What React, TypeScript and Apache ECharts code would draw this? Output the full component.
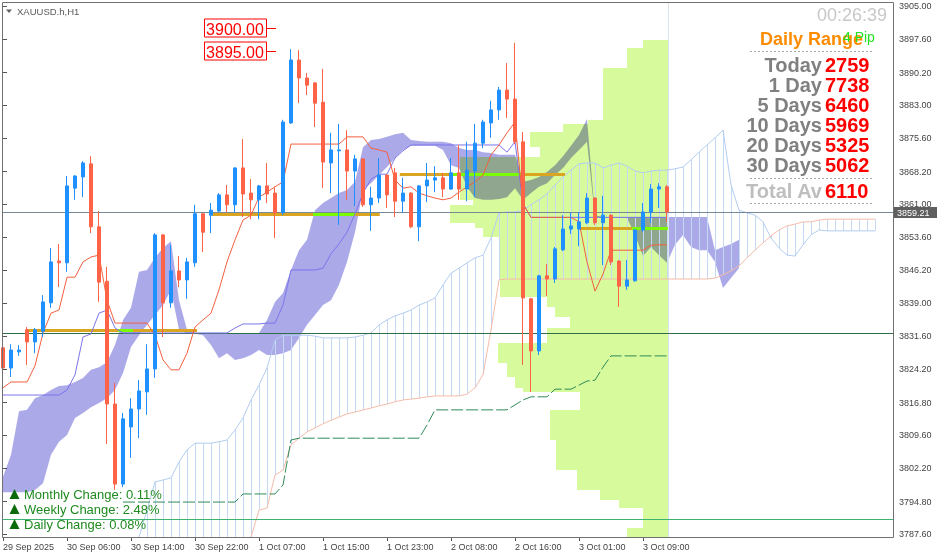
import React, { useEffect, useRef } from 'react';
import * as echarts from 'echarts';

const FONT = '"Liberation Sans", Arial, sans-serif';
const Y_MIN = 3786.93;
const Y_MAX = 3905.89;
const X_MAX = 111;

// ---------- axis texts ----------
const tickLabels = ['29 Sep 2025', '30 Sep 06:00', '30 Sep 14:00', '30 Sep 22:00', '1 Oct 07:00', '1 Oct 15:00', '1 Oct 23:00', '2 Oct 08:00', '2 Oct 16:00', '3 Oct 01:00', '3 Oct 09:00'];
const tickIndex = [0, 8, 16, 24, 32, 40, 48, 56, 64, 72, 80];
const priceTicks = [3905.0, 3897.6, 3890.2, 3883.0, 3875.6, 3868.2, 3861.0, 3853.6, 3846.2, 3839.0, 3831.6, 3824.2, 3816.8, 3809.6, 3802.2, 3794.8, 3787.6];

// ---------- candles [open, close, low, high] ----------
const candles: number[][] = [
  [3829.0, 3824.5, 3823.6, 3830.7], [3824.5, 3828.5, 3822.5, 3829.8], [3828.1, 3828.5, 3827.2, 3829.6], [3833.0, 3830.3, 3825.2, 3833.6],
  [3830.3, 3833.0, 3827.8, 3833.4], [3832.7, 3839.2, 3831.4, 3840.7], [3839.0, 3848.1, 3837.9, 3851.2], [3848.3, 3847.9, 3842.5, 3852.1],
  [3847.9, 3865.0, 3845.9, 3867.2], [3864.5, 3867.2, 3861.9, 3867.4], [3867.0, 3870.1, 3862.5, 3870.5], [3869.9, 3855.9, 3854.5, 3871.6],
  [3855.9, 3843.6, 3839.2, 3859.4], [3843.8, 3816.5, 3807.6, 3847.0], [3816.5, 3798.7, 3797.4, 3821.2], [3798.7, 3813.2, 3798.0, 3814.5],
  [3811.4, 3815.4, 3804.5, 3817.8], [3815.4, 3819.4, 3808.9, 3821.8], [3819.2, 3824.3, 3814.1, 3829.8], [3824.3, 3854.1, 3822.3, 3854.5],
  [3854.1, 3839.0, 3831.4, 3854.3], [3839.0, 3846.1, 3837.9, 3851.9], [3846.1, 3844.1, 3842.5, 3849.4], [3844.1, 3848.1, 3839.9, 3849.0],
  [3847.9, 3858.8, 3847.0, 3860.8], [3858.8, 3854.7, 3850.3, 3858.9], [3858.5, 3859.6, 3854.5, 3861.2], [3859.4, 3863.0, 3859.2, 3863.4],
  [3863.0, 3860.8, 3859.2, 3865.2], [3860.8, 3869.0, 3859.0, 3869.1], [3869.0, 3863.2, 3858.1, 3875.4], [3863.4, 3861.9, 3857.6, 3866.5],
  [3861.9, 3865.0, 3857.6, 3865.2], [3865.0, 3863.2, 3861.2, 3870.1], [3863.4, 3859.0, 3853.4, 3864.8], [3859.0, 3879.2, 3858.5, 3879.7],
  [3879.0, 3893.0, 3878.8, 3895.4], [3893.0, 3889.0, 3883.4, 3895.2], [3889.0, 3887.4, 3885.2, 3890.1], [3887.9, 3883.4, 3878.1, 3888.1],
  [3883.6, 3870.3, 3864.5, 3891.0], [3870.1, 3873.0, 3863.4, 3876.8], [3872.8, 3873.0, 3856.3, 3878.8], [3873.0, 3868.3, 3861.9, 3877.4],
  [3868.3, 3871.0, 3860.5, 3871.9], [3871.0, 3860.8, 3860.3, 3871.1], [3860.8, 3862.3, 3855.0, 3864.8], [3862.3, 3867.4, 3861.2, 3871.2],
  [3867.4, 3863.0, 3860.1, 3867.6], [3867.9, 3861.6, 3858.1, 3869.0], [3861.6, 3863.4, 3859.0, 3866.8], [3863.4, 3855.9, 3855.6, 3863.6],
  [3855.9, 3865.0, 3852.7, 3865.2], [3865.0, 3866.3, 3861.4, 3870.1], [3866.3, 3866.8, 3863.6, 3869.4], [3866.8, 3864.3, 3862.5, 3867.9],
  [3864.3, 3867.9, 3864.1, 3871.2], [3867.9, 3864.3, 3861.9, 3874.1], [3864.3, 3868.5, 3861.6, 3874.8], [3868.3, 3874.5, 3862.5, 3878.8],
  [3874.5, 3879.2, 3873.4, 3879.7], [3879.0, 3881.9, 3875.7, 3883.9], [3881.9, 3886.3, 3879.7, 3887.0], [3886.3, 3884.3, 3880.1, 3892.3],
  [3884.3, 3874.8, 3874.3, 3896.8], [3874.8, 3840.1, 3825.2, 3877.0], [3839.9, 3828.3, 3819.2, 3840.1], [3828.3, 3845.0, 3827.4, 3845.2],
  [3845.0, 3844.3, 3840.5, 3847.6], [3844.3, 3851.0, 3843.4, 3851.4], [3850.8, 3855.4, 3850.5, 3858.5], [3855.4, 3856.1, 3854.3, 3859.0],
  [3855.4, 3857.0, 3851.6, 3859.2], [3856.8, 3862.3, 3856.5, 3863.4], [3862.3, 3856.8, 3856.3, 3862.5], [3856.8, 3858.5, 3847.4, 3862.8],
  [3858.5, 3848.1, 3847.4, 3858.7], [3848.3, 3842.7, 3838.1, 3848.5], [3842.7, 3844.1, 3841.9, 3848.5], [3843.9, 3855.2, 3843.7, 3855.4],
  [3855.2, 3859.2, 3854.7, 3861.2], [3859.2, 3864.3, 3856.8, 3865.4], [3864.3, 3864.8, 3860.1, 3865.6], [3864.8, 3859.21, 3857.0, 3865.2],
];

// ---------- Ichimoku lines ----------
const tenkan = [
  3820.1, 3821.4, 3821.4, 3821.4, 3825.0, 3832.3, 3836.7, 3837.4, 3844.7, 3844.7, 3848.1, 3849.2, 3849.6, 3839.6, 3834.5, 3834.5,
  3834.5, 3834.5, 3834.5, 3831.8, 3826.3, 3824.1, 3824.1, 3827.8, 3833.6, 3835.2, 3836.7, 3841.9, 3848.1, 3853.0, 3857.4, 3858.5,
  3862.5, 3863.6, 3864.8, 3865.9, 3874.3, 3874.3, 3874.3, 3874.3, 3874.3, 3874.3, 3874.3, 3875.9, 3875.9, 3875.9, 3873.4, 3873.0,
  3872.5, 3866.3, 3864.5, 3864.8, 3863.4, 3862.8, 3862.3, 3861.9, 3862.3, 3863.6, 3864.8, 3865.9, 3867.4, 3871.9, 3874.1, 3876.8,
  3879.2, 3861.0, 3858.0, 3858.0, 3858.0, 3858.0, 3858.0, 3858.0, 3857.0, 3848.1, 3841.6, 3845.4, 3850.7, 3850.7, 3850.7, 3850.7,
  3850.7, 3851.8, 3851.9, 3851.9,
];
const kijun = [
  3818.5, 3818.5, 3818.5, 3818.5, 3818.5, 3818.5, 3818.5, 3818.5, 3819.6, 3823.0, 3831.4, 3832.1, 3836.7, 3837.4, 3833.4, 3832.3,
  3832.3, 3832.3, 3832.3, 3832.3, 3832.3, 3832.3, 3832.3, 3832.3, 3832.3, 3832.3, 3832.3, 3832.3, 3832.3, 3833.4, 3834.3, 3834.3,
  3834.3, 3834.5, 3834.5, 3838.5, 3846.3, 3846.3, 3846.3, 3846.3, 3846.7, 3849.9, 3852.1, 3854.7, 3858.8, 3863.4, 3866.5, 3867.6,
  3867.6, 3871.2, 3872.8, 3874.1, 3874.1, 3874.1, 3874.1, 3874.1, 3874.1, 3874.1, 3874.1, 3874.1, 3874.1, 3874.1, 3874.1, 3872.5,
  3874.8, 3861.0, 3858.0, 3858.0, 3858.0, 3858.0, 3858.0, 3858.0, 3858.0, 3858.0, 3858.0, 3858.0, 3858.0, 3858.0, 3858.0, 3858.0,
  3858.0, 3858.0, 3858.0, 3858.0,
];

// ---------- cloud (upper / lower edge, from bar 0) ----------
const cloudTop = [
  3800.3, 3805.2, 3814.9, 3815.2, 3817.8, 3818.5, 3819.6, 3820.5, 3820.7, 3821.4, 3822.3, 3824.1, 3824.7, 3825.8, 3829.6, 3835.2,
  3837.9, 3845.9, 3846.3, 3849.0, 3851.2, 3852.7, 3839.6, 3833.0, 3832.3, 3832.3, 3832.3, 3832.3, 3832.3, 3832.3, 3832.3, 3832.3,
  3832.3, 3835.2, 3839.2, 3841.2, 3846.3, 3850.7, 3853.0, 3859.6, 3861.2, 3862.3, 3863.4, 3864.1, 3865.9, 3873.6, 3875.2, 3875.4,
  3875.9, 3876.5, 3876.8, 3875.2, 3875.0, 3874.8, 3874.8, 3874.8, 3874.5, 3873.4, 3873.0, 3873.0, 3872.5, 3872.3, 3871.9, 3871.9,
  3871.9, 3865.9, 3866.3, 3867.0, 3868.1, 3869.6, 3871.6, 3873.9, 3876.3, 3879.9, 3858.5, 3858.1, 3858.1, 3858.1, 3858.1, 3858.1,
  3858.1, 3858.1, 3858.1, 3858.1, 3858.1, 3858.1, 3858.1, 3858.1, 3858.1, 3850.7, 3851.4, 3852.1, 3853.0,
];
const cloudBot = [
  3796.9, 3796.9, 3796.9, 3796.9, 3797.4, 3798.9, 3805.2, 3808.1, 3809.6, 3813.4, 3814.5, 3815.8, 3816.7, 3817.8, 3819.6, 3823.4,
  3829.2, 3831.8, 3834.1, 3836.3, 3838.5, 3841.9, 3833.0, 3832.1, 3832.1, 3831.8, 3829.6, 3826.7, 3827.8, 3826.3, 3826.7, 3827.4,
  3828.5, 3827.4, 3827.4, 3827.8, 3828.5, 3831.2, 3834.1, 3836.3, 3838.5, 3839.6, 3843.0, 3848.1, 3854.7, 3864.1, 3865.6, 3867.4,
  3869.2, 3871.2, 3873.0, 3873.9, 3873.9, 3873.9, 3873.9, 3873.0, 3869.6, 3869.0, 3864.8, 3862.3, 3861.9, 3861.9, 3862.1, 3862.5,
  3864.5, 3861.9, 3863.4, 3864.8, 3865.6, 3867.4, 3869.0, 3871.2, 3873.0, 3874.8, 3858.1, 3858.1, 3858.1, 3858.1, 3857.9, 3854.1,
  3849.4, 3851.4, 3849.6, 3847.9, 3851.9, 3854.1, 3851.4, 3850.7, 3850.7, 3848.1, 3842.3, 3844.5, 3846.7,
];

// ---------- hatched band (bars 17..109) ----------
const HATCH_START = 17;
const hatchUpper = [
  3786.9, 3792.9, 3799.2, 3799.6, 3800.1, 3803.6, 3806.3, 3807.8, 3807.8, 3807.8, 3808.1, 3808.5, 3810.7, 3813.4, 3817.4, 3820.7,
  3824.5, 3830.7, 3831.8, 3831.8, 3831.8, 3831.8, 3831.6, 3831.2, 3831.2, 3831.2, 3831.2, 3831.4, 3831.8, 3832.3, 3834.1, 3835.2,
  3836.1, 3836.7, 3837.4, 3838.5, 3839.2, 3840.1, 3843.0, 3845.6, 3846.7, 3847.9, 3849.0, 3849.6, 3853.4, 3859.0, 3859.2, 3859.2,
  3859.6, 3860.8, 3861.9, 3863.2, 3865.2, 3867.0, 3868.5, 3869.9, 3870.1, 3870.1, 3869.0, 3869.6, 3870.1, 3869.4, 3868.3, 3867.9,
  3868.3, 3868.5, 3868.5, 3868.8, 3869.2, 3870.8, 3872.5, 3874.1, 3875.7, 3877.4, 3865.2, 3859.6, 3859.0, 3858.5, 3857.0, 3853.4,
  3851.2, 3849.6, 3849.4, 3851.9, 3854.1, 3855.2, 3855.0, 3855.0, 3855.0, 3855.0, 3855.0, 3855.0, 3855.0,
];
const hatchLower: (number | null)[] = [
  null, null, null, null, null, null, null, null, null, null, null, null, null, null, 3786.9, 3792.9,
  3793.4, 3800.7, 3801.8, 3807.4, 3808.9, 3810.3, 3811.2, 3812.1, 3812.9, 3813.6, 3814.3, 3814.7, 3815.2, 3815.6, 3816.1, 3816.5,
  3817.0, 3817.4, 3817.6, 3817.8, 3818.1, 3818.3, 3818.3, 3818.3, 3818.3, 3818.7, 3820.1, 3823.0, 3833.0, 3844.1, 3844.3, 3844.3,
  3844.3, 3844.3, 3844.3, 3844.3, 3844.3, 3844.3, 3844.3, 3844.3, 3844.3, 3844.3, 3844.3, 3844.3, 3844.3, 3844.3, 3844.3, 3844.3,
  3844.3, 3844.3, 3844.3, 3844.3, 3844.3, 3844.3, 3844.3, 3844.3, 3844.5, 3845.2, 3846.1, 3847.2, 3849.0, 3850.7, 3852.3, 3853.9,
  3855.2, 3856.1, 3856.5, 3857.0, 3857.0, 3857.4, 3857.6, 3857.6, 3857.6, 3857.6, 3857.6, 3857.6, 3857.6,
];

// ---------- dashed green line (bars 15..83) ----------
const DASH_START = 15;
const greenDash = [
  3794.7, 3794.7, 3794.7, 3794.7, 3794.7, 3794.7, 3794.7, 3794.7, 3794.7, 3794.7, 3794.7, 3794.7, 3794.7, 3794.7, 3794.7,
  3796.5, 3796.5, 3796.5, 3796.5, 3796.5, 3798.5, 3808.5,
  3808.9, 3808.9, 3808.9, 3808.9, 3808.9, 3808.9, 3808.9, 3808.9, 3808.9, 3808.9, 3808.9, 3808.9, 3808.9, 3808.9, 3808.9, 3808.9,
  3811.8, 3815.2, 3815.2, 3815.2, 3815.2, 3815.2, 3815.2, 3815.2, 3815.2, 3815.2, 3815.2, 3816.3, 3817.4,
  3818.1, 3818.1, 3818.1, 3819.8, 3819.8, 3819.8, 3820.7, 3821.6, 3821.8, 3824.7,
  3827.2, 3827.2, 3827.2, 3827.2, 3827.2, 3827.2, 3827.2, 3827.2,
];

// ---------- volume profile ----------
const PROFILE_RIGHT = 83.125;
const profileEdges = [3897.4, 3895.7, 3891.2, 3879.7, 3878.8, 3877.0, 3873.7, 3871.4, 3861.9, 3860.8, 3856.8, 3855.6, 3853.6, 3840.3, 3838.1, 3835.9, 3833.4, 3830.1, 3825.6, 3822.5, 3820.1, 3819.2, 3815.2, 3808.5, 3801.8, 3797.4, 3795.2, 3793.4, 3788.9, 3786.9];
const profileVol = [3.1, 5.1, 8.1, 10.0, 13.1, 17.3, 16.0, 26.0, 24.4, 27.3, 24.1, 23.1, 21.0, 15.1, 14.1, 12.3, 15.1, 21.3, 20.1, 19.1, 18.1, 11.0, 14.8, 14.0, 11.4, 8.5, 6.1, 3.1, 5.1];

// ---------- levels ----------
const goldPrice = [3833.0, 3858.8, 3867.6, 3855.6];
const goldFrom = [3.0, 26.1, 49.6, 72.1];
const goldTo = [24.25, 47.1, 70.25, 83.1];
const limeFrom = [14.4, 38.75, 55.9, 78.6];
const limeTo = [16.25, 44.0, 64.9, 83.1];
const hLevels = [3859.21, 3832.3, 3790.9];
const hColors = ['#778899', '#2F6E46', '#3CB371'];
const lastPrice = 3859.21;
const alertPrices = [3900.0, 3895.0];
const ALERT_IDX = 34.125;

// ---------- panel texts ----------
const rangeLabels = ['Today', '1 Day', '5 Days', '10 Days', '20 Days', '30 Days'];
const rangeValues = ['2759', '7738', '6460', '5969', '5325', '5062'];
const rangeTotal = '6110';
const changeTexts = ['Monthly Change: 0.11%', 'Weekly Change: 2.48%', 'Daily Change: 0.08%'];

const CLOUD = '#aca9e9';

function buildOption(): any {
  const graphic: any[] = [];
  graphic.push({ type: 'rect', silent: true, z: 100, shape: { x: 2.5, y: 2.5, width: 891, height: 535 }, style: { fill: 'transparent', stroke: '#707070', lineWidth: 1 } });
  graphic.push({ type: 'polygon', silent: true, z: 100, shape: { points: [[6, 9.5], [12, 9.5], [9, 13]] }, style: { fill: '#606060' } });
  graphic.push({ type: 'text', silent: true, z: 100, x: 17, y: 11, style: { text: 'XAUUSD.h,H1', fill: '#5a5a5a', font: `9.5px ${FONT}`, align: 'left', verticalAlign: 'middle' } });

  // daily range panel
  graphic.push({ type: 'text', silent: true, z: 100, x: 887, y: 15, style: { text: '00:26:39', fill: '#C8C8C8', font: `18px ${FONT}`, align: 'right', verticalAlign: 'middle' } });
  graphic.push({ type: 'text', silent: true, z: 100, x: 863, y: 39, style: { text: 'Daily Range', fill: '#FF8C00', font: `bold 18px ${FONT}`, align: 'right', verticalAlign: 'middle' } });
  graphic.push({ type: 'text', silent: true, z: 101, x: 843, y: 37, style: { text: '4 Pip', fill: '#22E022', font: `14px ${FONT}`, align: 'left', verticalAlign: 'middle' } });
  [51, 178, 203].forEach((y) => {
    graphic.push({ type: 'line', silent: true, z: 100, shape: { x1: 750, y1: y + 0.5, x2: 873, y2: y + 0.5 }, style: { stroke: '#A8A8A8', lineWidth: 1, lineDash: [2, 2] } });
  });
  rangeLabels.forEach((lab, k) => {
    const y = 65 + k * 20;
    graphic.push({ type: 'text', silent: true, z: 100, x: 822, y, style: { text: lab, fill: '#808080', font: `bold 20px ${FONT}`, align: 'right', verticalAlign: 'middle' } });
    graphic.push({ type: 'text', silent: true, z: 100, x: 825, y, style: { text: rangeValues[k], fill: '#FF0000', font: `bold 20px ${FONT}`, align: 'left', verticalAlign: 'middle' } });
  });
  graphic.push({ type: 'text', silent: true, z: 100, x: 822, y: 191, style: { text: 'Total Av', fill: '#BEBEBE', font: `bold 20px ${FONT}`, align: 'right', verticalAlign: 'middle' } });
  graphic.push({ type: 'text', silent: true, z: 100, x: 825, y: 191, style: { text: rangeTotal, fill: '#FF0000', font: `bold 20px ${FONT}`, align: 'left', verticalAlign: 'middle' } });

  // change texts
  changeTexts.forEach((t, k) => {
    const y = 494 + k * 15;
    graphic.push({ type: 'polygon', silent: true, z: 100, shape: { points: [[9.5, y + 5], [19.5, y + 5], [14.5, y - 5]] }, style: { fill: '#0B6B0B' } });
    graphic.push({ type: 'text', silent: true, z: 100, x: 24, y, style: { text: t, fill: '#1F8A1F', font: `13px ${FONT}`, align: 'left', verticalAlign: 'middle' } });
  });

  const series: any[] = [];

  // volume profile
  series.push({
    type: 'custom', z: 1, silent: true,
    data: profileVol.map((v, k) => [k, profileEdges[k], profileEdges[k + 1], v]),
    renderItem: (params: any, api: any) => {
      const hi = api.value(1), lo = api.value(2), vol = api.value(3);
      const a = api.coord([PROFILE_RIGHT - vol, hi]);
      const b = api.coord([PROFILE_RIGHT, lo]);
      const x = Math.round(a[0]), y = Math.round(a[1]);
      return { type: 'rect', shape: { x, y, width: Math.round(b[0]) - x, height: Math.round(b[1]) - y }, style: { fill: '#D7FA9C' } };
    },
  });

  // cloud
  series.push({
    type: 'custom', z: 2, silent: true,
    data: [[0, cloudTop[0]]],
    renderItem: (params: any, api: any) => {
      const pts: number[][] = [];
      for (let i = 0; i < cloudTop.length; i++) pts.push(api.coord([i, cloudTop[i]]));
      for (let i = cloudBot.length - 1; i >= 0; i--) pts.push(api.coord([i, cloudBot[i]]));
      return { type: 'polygon', shape: { points: pts }, style: { fill: CLOUD } };
    },
  });

  // hatch verticals
  series.push({
    type: 'custom', z: 3, silent: true,
    data: hatchUpper.map((v, k) => [HATCH_START + k, v]),
    renderItem: (params: any, api: any) => {
      const idx = api.value(0);
      const k = idx - HATCH_START;
      const up = hatchUpper[k];
      const lo = hatchLower[k] == null ? Y_MIN : (hatchLower[k] as number);
      const p1 = api.coord([idx, up]);
      const p2 = api.coord([idx, lo]);
      const x = Math.round(p1[0]) + 0.5;
      return { type: 'line', shape: { x1: x, y1: p1[1], x2: x, y2: p2[1] }, style: { stroke: '#C4DAF4', lineWidth: 1 } };
    },
  });

  // current bar separator
  series.push({
    type: 'custom', z: 3, silent: true,
    data: [[PROFILE_RIGHT, Y_MAX]],
    renderItem: (params: any, api: any) => {
      const a = api.coord([PROFILE_RIGHT, Y_MAX]);
      const b = api.coord([PROFILE_RIGHT, Y_MIN]);
      const x = Math.round(a[0]) + 0.5;
      return { type: 'line', shape: { x1: x, y1: a[1], x2: x, y2: b[1] }, style: { stroke: '#DCE5EE', lineWidth: 1 } };
    },
  });

  // hatch border lines
  series.push({ type: 'line', z: 4, silent: true, showSymbol: false, data: hatchUpper.map((v, k) => [HATCH_START + k, v]), lineStyle: { color: '#B2CDF0', width: 1 } });
  series.push({ type: 'line', z: 4, silent: true, showSymbol: false, data: hatchLower.map((v, k) => [HATCH_START + k, v]), lineStyle: { color: '#F5BCA8', width: 1 } });

  // horizontal levels
  series.push({
    type: 'custom', z: 5, silent: true,
    data: hLevels.map((v) => [0, v]),
    renderItem: (params: any, api: any) => {
      const v = api.value(1);
      const a = api.coord([0, v]);
      const b = api.coord([X_MAX, v]);
      const y = Math.round(a[1]) + 0.5;
      return { type: 'line', shape: { x1: a[0] - 1, y1: y, x2: b[0] + 2, y2: y }, style: { stroke: hColors[params.dataIndex], lineWidth: 1 } };
    },
  });

  // gold/lime segments
  series.push({
    type: 'custom', z: 6, silent: true,
    data: goldPrice.map((p, k) => [goldFrom[k], p]),
    renderItem: (params: any, api: any) => {
      const k = params.dataIndex;
      const p = goldPrice[k];
      const a = api.coord([goldFrom[k], p]);
      const b = api.coord([goldTo[k], p]);
      const c = api.coord([limeFrom[k], p]);
      const d = api.coord([limeTo[k], p]);
      const y = Math.round(a[1]) + 0.5;
      return {
        type: 'group', children: [
          { type: 'line', shape: { x1: a[0], y1: y, x2: b[0], y2: y }, style: { stroke: '#DAA520', lineWidth: 3 } },
          { type: 'line', shape: { x1: c[0], y1: y, x2: d[0], y2: y }, style: { stroke: '#7CFC00', lineWidth: 3 } },
        ],
      };
    },
  });

  // indicator lines
  series.push({ type: 'line', z: 7, silent: true, showSymbol: false, data: kijun.map((v, i) => [i, v]), lineStyle: { color: '#7C74EC', width: 1 } });
  series.push({ type: 'line', z: 7, silent: true, showSymbol: false, data: tenkan.map((v, i) => [i, v]), lineStyle: { color: '#F4603F', width: 1 } });
  series.push({ type: 'line', z: 7, silent: true, showSymbol: false, data: greenDash.map((v, k) => [DASH_START + k, v]), lineStyle: { color: '#2E8B57', width: 1, type: [12, 3] } });

  // candles
  series.push({
    type: 'candlestick', z: 8, silent: true,
    dimensions: ['x', 'open', 'close', 'lowest', 'highest'],
    encode: { x: 'x', y: ['open', 'close', 'lowest', 'highest'] },
    data: candles.map((c, i) => [i, c[0], c[1], c[2], c[3]]),
    barWidth: 4,
    itemStyle: { color: '#1E90FF', color0: '#FF6347', borderColor: '#1E90FF', borderColor0: '#FF6347', borderColorDoji: '#FF6347', borderWidth: 1 },
  });

  // alert price boxes
  series.push({
    type: 'custom', z: 9, silent: true,
    data: alertPrices.map((p) => [ALERT_IDX, p]),
    renderItem: (params: any, api: any) => {
      const v = api.value(1);
      const p = api.coord([ALERT_IDX, v]);
      const y = Math.round(p[1]) + 0.5;
      const xr = Math.round(p[0]);
      return {
        type: 'group', children: [
          { type: 'line', shape: { x1: xr - 10, y1: y, x2: xr, y2: y }, style: { stroke: '#FF0000', lineWidth: 1 } },
          { type: 'rect', shape: { x: xr - 72 + 0.5, y: y - 9.5, width: 62, height: 18 }, style: { fill: '#FFFFFF', stroke: '#FF0000', lineWidth: 1 } },
          { type: 'text', x: xr - 41, y: y + 0.5, style: { text: v.toFixed(2), fill: '#FF0000', font: `16px ${FONT}`, align: 'center', verticalAlign: 'middle' } },
        ],
      };
    },
  });

  // last price tag
  series.push({
    type: 'custom', z: 9, silent: true,
    data: [[X_MAX, lastPrice]],
    renderItem: (params: any, api: any) => {
      const v = api.value(1);
      const p = api.coord([X_MAX, v]);
      const y = Math.round(p[1]);
      return {
        type: 'group', children: [
          { type: 'rect', shape: { x: p[0] + 3, y: y - 5, width: 43, height: 11 }, style: { fill: '#5F5F5F' } },
          { type: 'text', x: p[0] + 6, y: y + 0.5, style: { text: v.toFixed(2), fill: '#FFFFFF', font: `9px ${FONT}`, align: 'left', verticalAlign: 'middle' } },
        ],
      };
    },
  });

  return {
    animation: false,
    backgroundColor: '#FFFFFF',
    grid: { left: 3, right: 48, top: 2, bottom: 21, containLabel: false },
    xAxis: {
      type: 'value', min: 0, max: X_MAX,
      axisLine: { show: false },
      splitLine: { show: false },
      axisTick: { show: true, customValues: tickIndex, length: 4, lineStyle: { color: '#555555' } },
      axisLabel: {
        customValues: tickIndex, align: 'left', margin: 5, color: '#444444', fontSize: 9, fontFamily: FONT,
        formatter: (v: number) => tickLabels[tickIndex.indexOf(Math.round(v))] || '',
      },
    },
    yAxis: {
      type: 'value', position: 'right', offset: 2, min: Y_MIN, max: Y_MAX, scale: true,
      axisLine: { show: false },
      splitLine: { show: false },
      axisTick: { show: true, customValues: priceTicks, length: 4, lineStyle: { color: '#555555' } },
      axisLabel: { customValues: priceTicks, margin: 6, color: '#444444', fontSize: 9, fontFamily: FONT, formatter: (v: number) => v.toFixed(2) },
    },
    graphic,
    series,
  };
}

export default function App() {
  const ref = useRef<HTMLDivElement>(null);
  useEffect(() => {
    const el = ref.current as HTMLDivElement;
    const chart = echarts.init(el, null, { renderer: 'svg', width: 939, height: 558 });
    chart.setOption(buildOption());
    const applyBlend = () => {
      el.querySelectorAll('path').forEach((p) => {
        const f = (p.getAttribute('fill') || '').toLowerCase().replace(/\s/g, '');
        if (f === CLOUD || f === 'rgb(172,169,233)') (p as any).style.mixBlendMode = 'multiply';
      });
    };
    applyBlend();
    return () => chart.dispose();
  }, []);
  return <div ref={ref} style={{ position: 'absolute', left: 0, top: 0, width: 939, height: 558 }} />;
}
